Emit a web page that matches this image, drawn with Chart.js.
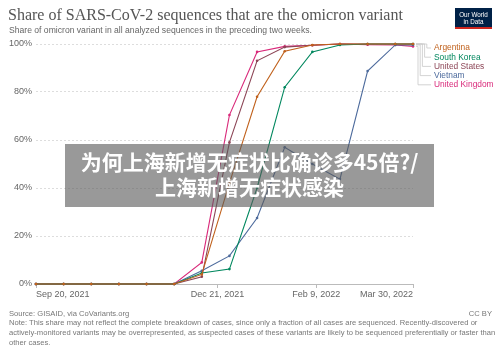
<!DOCTYPE html>
<html><head><meta charset="utf-8">
<script src="https://cdn.jsdelivr.net/npm/chart.js@4/dist/chart.umd.min.js"></script>
<style>
html,body{margin:0;padding:0;background:#fff;width:500px;height:352px;overflow:hidden;position:relative;font-family:"Liberation Sans",Arial,sans-serif;}
#c{position:absolute;left:0;top:0;}
.t{position:absolute;white-space:nowrap;}
#title{left:8px;top:6px;font-family:"Liberation Serif","DejaVu Serif",serif;font-size:16px;color:#555;}
#sub{left:9px;top:25px;font-size:8.6px;color:#666;}
#logo{position:absolute;left:455px;top:8px;width:37px;height:21px;background:#002147;border-bottom:2px solid #ce261e;box-sizing:border-box;color:#fff;font-size:6.3px;line-height:7px;text-align:center;padding-top:3px;}
#src{left:9px;top:309px;font-size:7.6px;color:#777;}
#cc{right:8px;top:309px;font-size:7.6px;color:#777;}
#note{left:9px;top:318px;font-size:7.6px;color:#777;line-height:10px;}
#ov{position:absolute;left:65px;top:144px;width:369px;height:63px;background:rgba(90,90,90,0.62);}
#ovt{position:absolute;left:0;top:5px;width:100%;text-align:center;color:#fff;font-family:"Noto Sans CJK SC",sans-serif;font-weight:bold;font-size:21px;line-height:25px;}
</style></head>
<body>
<canvas id="c" width="500" height="352"></canvas>
<div class="t" id="title">Share of SARS-CoV-2 sequences that are the omicron variant</div>
<div class="t" id="sub">Share of omicron variant in all analyzed sequences in the preceding two weeks.</div>
<div id="logo">Our World<br>in Data</div>
<div class="t" id="src">Source: GISAID, via CoVariants.org</div>
<div class="t" id="cc">CC BY</div>
<div class="t" id="note">Note: This share may not reflect the complete breakdown of cases, since only a fraction of all cases are sequenced. Recently-discovered or<br>actively-monitored variants may be overrepresented, as suspected cases of these variants are likely to be sequenced preferentially or faster than<br>other cases.</div>
<div id="ov"><div id="ovt">为何上海新增无症状比确诊多45倍?/<br>上海新增无症状感染</div></div>
<script>
const dates = ['2021-09-20','2021-10-04','2021-10-18','2021-11-01','2021-11-15','2021-11-29','2021-12-13','2021-12-27','2022-01-10','2022-01-24','2022-02-07','2022-02-21','2022-03-07','2022-03-21','2022-03-30'];
const countries = ['Argentina','South Korea','United States','Vietnam','United Kingdom'];
const argentina    = [0,0,0,0,0,0,4,42,78,97,99.6,100,100,100,100];
const southKorea   = [0,0,0,0,0,0,4.6,6.2,40,82,96.7,99.6,100,100,100];
const unitedStates = [0,0,0,0,0,0,3,59,93,98.7,99.5,100,100,100,100];
const vietnam      = [0,0,0,0,0,0,5.5,11.7,27.5,57,50,43.7,88.7,99.6,99.6];
const unitedKingdom= [0,0,0,0,0,0,9,70.4,96.7,99,99.5,100,99.7,99.6,99];
const xTickDates  = ['2021-09-20','2021-12-21','2022-02-09','2022-03-30'];
const xTickLabels = ['Sep 20, 2021','Dec 21, 2021','Feb 9, 2022','Mar 30, 2022'];
const yTicks = [0,20,40,60,80,100];
const colors = ['#c0611c','#00875e','#8c4556','#4c6a9c','#d9297a'];

const DAY = 86400000;
const t0 = Date.parse(dates[0]);
const toDay = d => Math.round((Date.parse(d) - t0) / DAY);
const xs = dates.map(toDay);
const xTicks = xTickDates.map(toDay);
const seriesVals = [argentina, southKorea, unitedStates, vietnam, unitedKingdom];

const datasets = countries.map((name, i) => ({
  label: name,
  data: seriesVals[i].map((v, j) => ({x: xs[j], y: v})),
  borderColor: colors[i],
  backgroundColor: colors[i],
  borderWidth: 1.1,
  pointRadius: 1.3,
  pointHoverRadius: 1.3,
  pointBorderWidth: 0,
  tension: 0,
  clip: false
}));

const labelPlugin = {
  id: 'endLabels',
  afterDatasetsDraw(chart) {
    const ctx = chart.ctx;
    const top = chart.chartArea.top;
    ctx.save();
    ctx.font = '8.4px "Liberation Sans", Arial, sans-serif';
    ctx.textBaseline = 'middle';
    ctx.textAlign = 'left';
    const n = chart.data.datasets.length;
    chart.data.datasets.forEach((ds, i) => {
      const meta = chart.getDatasetMeta(i);
      const pt = meta.data[meta.data.length - 1];
      const ly = top + 4 + i * 9.2;
      const vx = pt.x + 5 + (n - 1 - i) * 2.2;
      const lx = 434;
      ctx.strokeStyle = '#c8c8c8';
      ctx.lineWidth = 0.8;
      ctx.beginPath();
      ctx.moveTo(pt.x + 3, pt.y);
      ctx.lineTo(vx, pt.y);
      ctx.lineTo(vx, ly);
      ctx.lineTo(lx - 3, ly);
      ctx.stroke();
      ctx.fillStyle = ds.borderColor;
      ctx.fillText(ds.label, lx, ly);
    });
    ctx.restore();
  }
};

new Chart(document.getElementById('c'), {
  type: 'line',
  data: { datasets },
  options: {
    responsive: false,
    animation: false,
    events: [],
    layout: { padding: { left: 0, top: 44, right: 87, bottom: 40 } },
    plugins: { legend: { display: false }, tooltip: { enabled: false } },
    scales: {
      x: {
        type: 'linear',
        min: xs[0], max: xs[xs.length - 1],
        afterBuildTicks: s => { s.ticks = xTicks.map(v => ({ value: v })); },
        afterFit: s => { s.height = 28; },
        ticks: {
          autoSkip: false, maxRotation: 0, align: 'inner', padding: 1,
          color: '#666', font: { family: '"Liberation Sans", Arial, sans-serif', size: 9 },
          callback: (v) => { const k = xTicks.indexOf(v); return k >= 0 ? xTickLabels[k] : ''; }
        },
        grid: { drawOnChartArea: false, drawTicks: true, tickLength: 4, color: '#bbb', lineWidth: 1 },
        border: { display: true, color: '#bbb', width: 1 }
      },
      y: {
        min: 0, max: 100,
        afterBuildTicks: s => { s.ticks = yTicks.map(v => ({ value: v })); },
        afterFit: s => { s.width = 36; },
        ticks: {
          padding: 4, color: '#666',
          font: { family: '"Liberation Sans", Arial, sans-serif', size: 9 },
          callback: v => v + '%'
        },
        grid: { drawTicks: false, color: '#ddd', lineWidth: 1 },
        border: { display: false, dash: [2, 2] }
      }
    }
  },
  plugins: [labelPlugin]
});
</script>
</body></html>
